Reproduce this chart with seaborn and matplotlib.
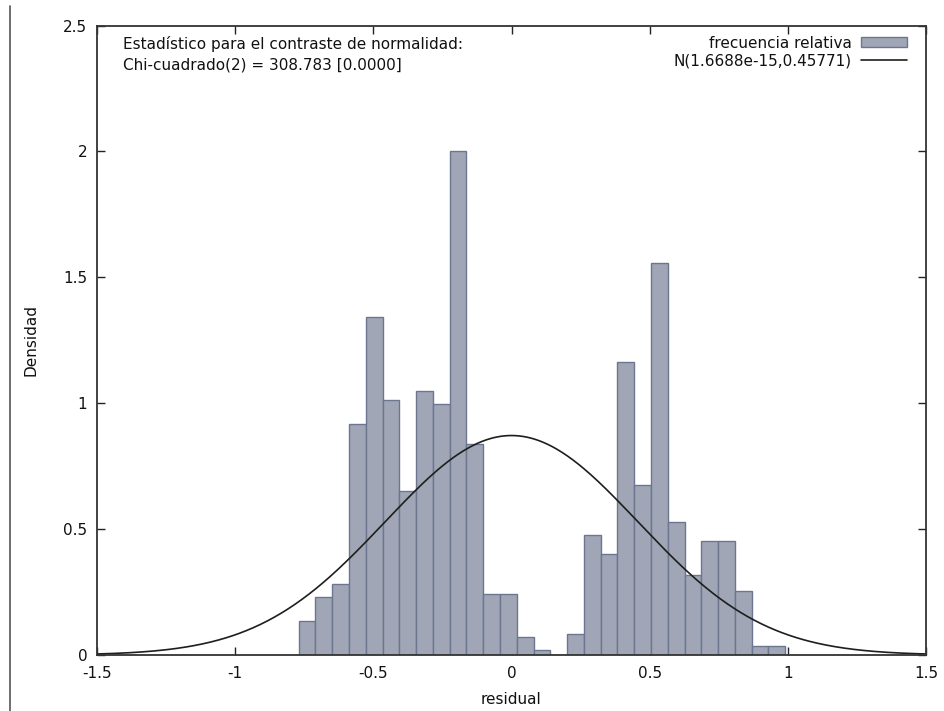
import numpy as np
import pandas as pd
import matplotlib
matplotlib.use("Agg")
import matplotlib.pyplot as plt
from matplotlib.lines import Line2D
import seaborn as sns

# ---- data ----
bin_start = -0.770
bin_width = 0.0607
densities = [0.136, 0.230, 0.282, 0.918, 1.343, 1.013, 0.653, 1.047, 0.995, 2.000,
             0.837, 0.241, 0.241, 0.071, 0.018, 0.000, 0.082, 0.475, 0.400, 1.165,
             0.676, 1.555, 0.529, 0.316, 0.452, 0.452, 0.254, 0.037, 0.037]
norm_mu = 1.6688e-15
norm_sigma = 0.45771
x_ticks = [-1.5, -1, -0.5, 0, 0.5, 1, 1.5]
x_tick_labels = ["-1.5", "-1", "-0.5", "0", "0.5", "1", "1.5"]
y_ticks = [0, 0.5, 1, 1.5, 2, 2.5]
y_tick_labels = ["0", "0.5", "1", "1.5", "2", "2.5"]
hist_label = "frecuencia relativa"
curve_label = "N(1.6688e-15,0.45771)"
stat_lines = ["Estadístico para el contraste de normalidad:",
              "Chi-cuadrado(2) = 308.783 [0.0000]"]

sns.set_theme(style="ticks")
plt.rcParams["font.family"] = ["DejaVu Sans"]
plt.rcParams["axes.unicode_minus"] = False

FS = 11.0
fig = plt.figure(figsize=(9.44, 7.11), dpi=100)
ax = fig.add_axes([97/944, 56/711, 829/944, 629.5/711])

n_bins = len(densities)
edges = [bin_start + bin_width * i for i in range(n_bins + 1)]
df = pd.DataFrame({
    "center": [(edges[i] + edges[i + 1]) / 2 for i in range(n_bins)],
    "density": densities,
})

sns.histplot(data=df, x="center", weights="density", bins=edges, stat="count",
             color="#a0a6b5", edgecolor="#6c7690", linewidth=1.0, alpha=1.0,
             ax=ax, label=hist_label)

xs = np.linspace(-1.5, 1.5, 600)
ys = np.exp(-0.5 * ((xs - norm_mu) / norm_sigma) ** 2) / (norm_sigma * np.sqrt(2 * np.pi))
sns.lineplot(x=xs, y=ys, color="#1e1e1e", linewidth=1.2, ax=ax, label=curve_label)

ax.set_xlim(-1.5, 1.5)
ax.set_ylim(0, 2.5)
ax.set_xticks(x_ticks)
ax.set_xticklabels(x_tick_labels)
ax.set_yticks(y_ticks)
ax.set_yticklabels(y_tick_labels)
ax.tick_params(direction="in", length=6, width=1.0, top=True, right=True,
               labelsize=FS, colors="#222222", labelcolor="#111111")
ax.tick_params(axis="x", pad=8)
ax.tick_params(axis="y", pad=7)
for s in ax.spines.values():
    s.set_linewidth(1.3)
    s.set_color("#333333")

ax.set_xlabel("residual", fontsize=FS, color="#111111")
ax.set_ylabel("Densidad", fontsize=FS, color="#111111")
ax.xaxis.set_label_coords(0.5, -0.058)
ax.yaxis.set_label_coords(-0.070, 0.5)

ax.text(0.0314, 0.971, stat_lines[0], transform=ax.transAxes, fontsize=FS,
        ha="left", va="center", color="#111111")
ax.text(0.0314, 0.938, stat_lines[1], transform=ax.transAxes, fontsize=FS,
        ha="left", va="center", color="#111111")

handles, labels = ax.get_legend_handles_labels()
h_hist = [h for h, l in zip(handles, labels) if l == hist_label]
h_line = [h for h, l in zip(handles, labels) if l == curve_label]
leg1 = ax.legend(h_hist, [hist_label], loc="center right",
                 bbox_to_anchor=(0.977, 0.9722), frameon=False, markerfirst=False,
                 fontsize=FS, borderpad=0, borderaxespad=0, handlelength=3.0,
                 handleheight=0.65, handletextpad=0.6, labelcolor="#111111")
ax.add_artist(leg1)
ax.legend(h_line, [curve_label], loc="center right",
          bbox_to_anchor=(0.977, 0.9444), frameon=False, markerfirst=False,
          fontsize=FS, borderpad=0, borderaxespad=0, handlelength=3.0,
          handletextpad=0.6, labelcolor="#111111")

fig.add_artist(Line2D([10/944, 10/944], [0, (711-6)/711], transform=fig.transFigure,
                      color="#555555", linewidth=1.2))

fig.savefig("out.png", dpi=100, facecolor="white")
